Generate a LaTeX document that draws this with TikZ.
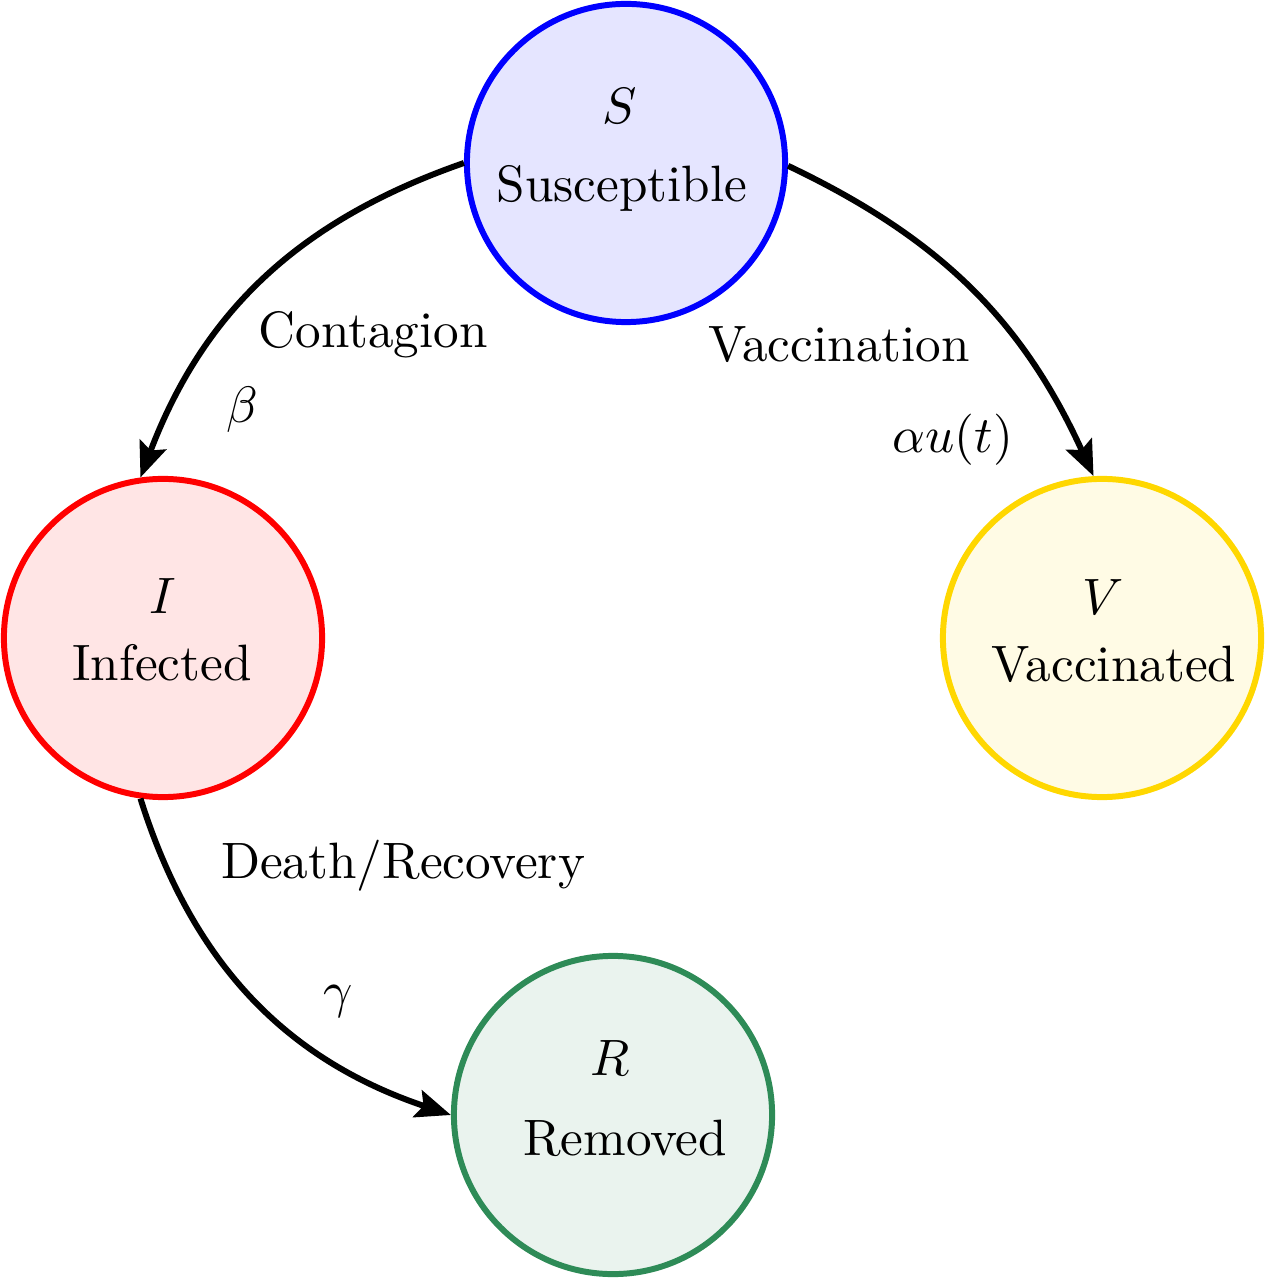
\documentclass[tikz,border=0pt]{standalone}
\usetikzlibrary{arrows.meta}
\definecolor{seagreen}{RGB}{46,139,87}
\definecolor{goldc}{RGB}{255,215,0}
\begin{document}
\begin{tikzpicture}[x=0.01cm,y=-0.01cm,font=\normalsize]
\tikzset{
  state/.style={circle, minimum size=3.18cm, inner sep=0pt, line width=1.7pt},
  flow/.style={line width=1.7pt, -{Stealth[length=10pt,width=8pt,inset=1.8pt]}},
  lbl/.style={anchor=base, inner sep=0pt, scale=1.455}
}
\useasboundingbox (0,0) rectangle (1267,1280);
% states
\node[state, draw=blue, fill=blue!10] (S) at (626,163) {};
\node[state, draw=red, fill=red!10] (I) at (163,638) {};
\node[state, draw=goldc, fill=goldc!10] (V) at (1102,638) {};
\node[state, draw=seagreen, fill=seagreen!10] (R) at (613,1115) {};
% state texts
\node[lbl] (Sm) at (620,124) {$S$};
\node[lbl] (St) at (622,202) {Susceptible};
\node[lbl] (Im) at (163,614) {$I$};
\node[lbl] (It) at (162,681) {Infected};
\node[lbl] (Vm) at (1103,615) {$V$};
\node[lbl] (Vt) at (1114,682) {Vaccinated};
\node[lbl] (Rm) at (610,1075) {$R$};
\node[lbl] (Rt) at (625,1155) {Removed};
% flows
\draw[flow] (S.west) to[bend right=25] (I.98);
\draw[flow] (S.-1) to[bend left=20] (V.93);
\draw[flow] (I.262) to[bend right=27] (R.west);
% flow labels
\node[lbl] (c1) at (373,348) {Contagion};
\node[lbl] (c2) at (242,423) {$\beta$};
\node[lbl] (v1) at (839,362) {Vaccination};
\node[lbl] (v2) at (953,453) {$\alpha u(t)$};
\node[lbl] (d1) at (403,878) {Death/Recovery};
\node[lbl] (d2) at (338,1007) {$\gamma$};
\end{tikzpicture}
\end{document}
